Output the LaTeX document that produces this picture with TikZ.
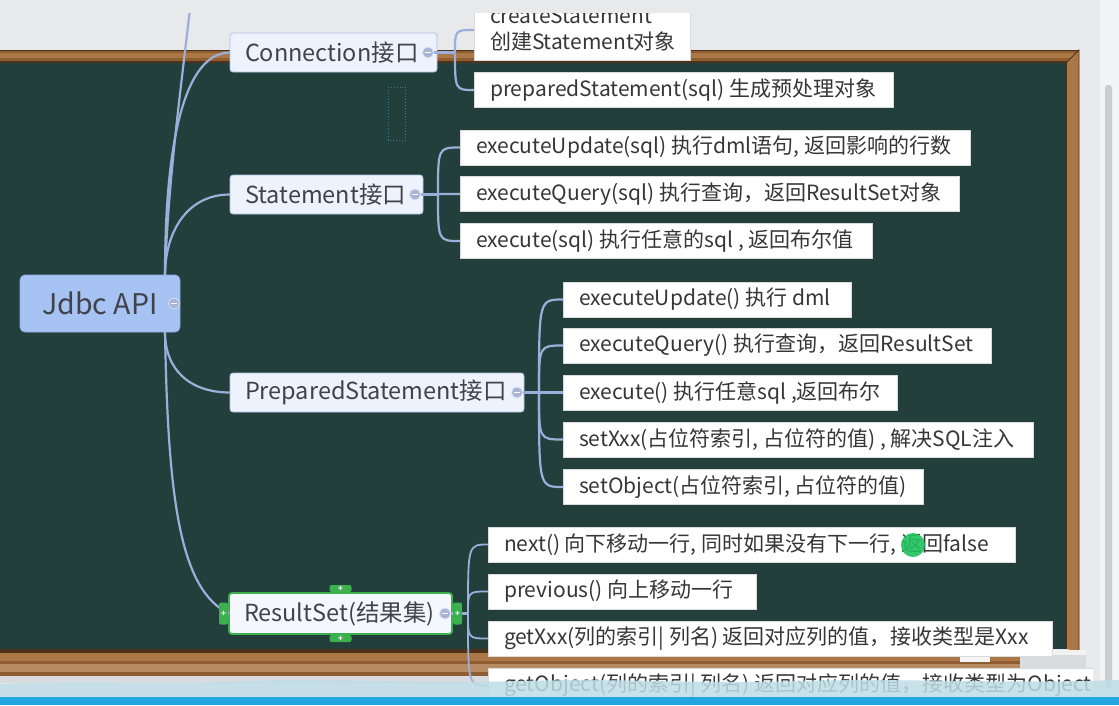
\documentclass[tikz,border=0pt]{standalone}
\usepackage{fontspec}
\setmainfont{Noto Sans CJK SC}
\usetikzlibrary{calc}
\definecolor{bg}{HTML}{E8E9EB}
\definecolor{panel}{HTML}{F2F3F4}
\definecolor{scroll}{HTML}{CBCCCE}
\definecolor{board}{HTML}{223F3B}
\definecolor{wood}{HTML}{8E5E32}
\definecolor{woodlt}{HTML}{AB7746}
\definecolor{wooddk}{HTML}{4F321A}
\definecolor{ledgegray}{HTML}{D9DCDE}
\definecolor{branch}{HTML}{9CAFDA}
\definecolor{topicfill}{HTML}{EEF2FC}
\definecolor{topicdraw}{HTML}{AFC0E8}
\definecolor{rootfill}{HTML}{A7C3F3}
\definecolor{rootdraw}{HTML}{8FAEE6}
\definecolor{txt}{HTML}{40434A}
\definecolor{leaftxt}{HTML}{363636}
\definecolor{leafdraw}{HTML}{DADADA}
\definecolor{knobfill}{HTML}{A8B4D6}
\definecolor{selgreen}{HTML}{3CB04E}
\definecolor{rsfill}{HTML}{F4F7FE}
\definecolor{cursorgreen}{HTML}{1FC25F}
\definecolor{wave}{HTML}{BFDDE7}
\definecolor{cyanbar}{HTML}{21A6E0}
\definecolor{dotcol}{HTML}{3A7F8F}
\newcommand{\lt}[2]{\hbox to #1pt{#2\hfil}}
\begin{document}
\begin{tikzpicture}[x=1pt,y=-1pt,
  every node/.style={inner sep=0pt, outer sep=0pt},
  rootbox/.style={draw=rootdraw, fill=rootfill, rounded corners=5pt, line width=0.8pt, minimum width=160pt, minimum height=57pt, font=\fontsize{28.5}{32}\selectfont, text=txt},
  topic/.style={draw=topicdraw, fill=topicfill, rounded corners=3pt, line width=0.8pt, minimum height=39pt, inner xsep=15pt, anchor=west, font=\fontsize{23.5}{27}\selectfont, text=txt},
  leaf/.style={draw=leafdraw, fill=white, line width=0.6pt, minimum height=35pt, inner xsep=16pt, anchor=west, font=\fontsize{21}{26}\selectfont, text=leaftxt},
  br/.style={draw=branch, line width=2.2pt},
  knob/.style={circle, draw=white!60!branch, fill=knobfill, minimum size=11pt, line width=0.8pt,
    path picture={\draw[white, line width=1.5pt] ([xshift=-2.6pt]path picture bounding box.center) -- ([xshift=2.6pt]path picture bounding box.center);}},
  handle/.style={fill=selgreen, rounded corners=2pt},
  plus/.style={text=white, font=\fontsize{8}{8}\selectfont\bfseries},
]
\useasboundingbox (0,0) rectangle (1119,705);
% ---------- background ----------
\fill[bg] (0,0) rectangle (1119,705);
\fill[panel] (1100,0) rectangle (1119,705);
\fill[scroll, rounded corners=3pt] (1105,85) rectangle (1112,688);
\fill[board] (0,62) rectangle (1067,649);
% top frame
\fill[wood] (0,50) -- (1079,50) -- (1067,62) -- (0,62) -- cycle;
\fill[woodlt] (0,53) rectangle (1074,58);
\draw[wooddk, line width=1pt] (0,50.5) -- (1079,50.5);
\draw[wooddk, line width=1.4pt] (0,62) -- (1067,62) -- (1067,649);
% right frame
\fill[woodlt] (1079,50) -- (1079,652) -- (1067,649) -- (1067,62) -- cycle;
\draw[wooddk, line width=0.8pt] (1067,62) -- (1079,50) -- (1079,652);
% ledge
\fill[wooddk] (0,649) rectangle (1020,653);
\fill[woodlt] (0,653) rectangle (1020,661);
\fill[wood] (0,661) rectangle (1020,664);
\fill[woodlt!85!white] (0,664) rectangle (1020,672);
\fill[wood] (0,672) rectangle (1020,676);
\fill[ledgegray] (1020,650) rectangle (1086,668);
\fill[white!95!black] (1020,650) rectangle (1086,655);
\fill[ledgegray] (0,676) rectangle (1093,683);
\fill[white!96!black] (960,656) rectangle (990,662);
% ---------- mind map ----------
\begin{scope}
\clip (0,13) rectangle (1093,705);
\draw[dotted, dotcol, line width=0.9pt] (388,87) rectangle (405,140);
% nodes
\node[rootbox] (root) at (100,303.5) {Jdbc API};
\node[topic] (conn) at (230,52.5) {\lt{177}{Connection接口}};
\node[topic] (stmt) at (230,194.5) {\lt{163}{Statement接口}};
\node[topic] (pst) at (230,392.5) {\lt{264}{PreparedStatement接口}};
\node[topic, draw=selgreen, line width=1.8pt, fill=rsfill, minimum height=41pt] (rs) at (229,613.5) {\lt{193}{ResultSet(结果集)}};
% connection children
\node[leaf, minimum height=60pt] (cs) at (474,30) {\vbox{\hbox to184pt{createStatement\hfil}\hbox to184pt{创建Statement对象\hfil}}};
\node[leaf] (ps) at (474,90) {\lt{387}{preparedStatement(sql) 生成预处理对象}};
% statement children
\node[leaf] (su) at (460,147.5) {\lt{478}{executeUpdate(sql) 执行dml语句, 返回影响的行数}};
\node[leaf] (sq) at (460,194) {\lt{467}{executeQuery(sql) 执行查询，返回ResultSet对象}};
\node[leaf] (se) at (460,241) {\lt{380}{execute(sql) 执行任意的sql , 返回布尔值}};
% prepared statement children
\node[leaf] (pu) at (563,299.5) {\lt{256}{executeUpdate() 执行 dml}};
\node[leaf] (pq) at (563,345.5) {\lt{396}{executeQuery() 执行查询，返回ResultSet}};
\node[leaf] (pe) at (563,392.5) {\lt{302}{execute() 执行任意sql ,返回布尔}};
\node[leaf] (px) at (563,439.5) {\lt{438}{setXxx(占位符索引, 占位符的值) , 解决SQL注入}};
\node[leaf] (po) at (563,487) {\lt{328}{setObject(占位符索引, 占位符的值)}};
% resultset children
\node[leaf] (rn) at (488,544.5) {\lt{495}{next() 向下移动一行, 同时如果没有下一行, 返回false}};
\node[leaf] (rp) at (488,591.5) {\lt{236}{previous() 向上移动一行}};
\node[leaf] (rg) at (488,638.5) {\lt{532}{getXxx(列的索引| 列名) 返回对应列的值，接收类型是Xxx}};
\node[leaf] (ro) at (488,685.5) {\lt{618}{getObject(列的索引| 列名) 返回对应列的值，接收类型为Object}};
% root branches
\coordinate (rt) at ([xshift=-15pt]root.north east);
\coordinate (rb) at ([xshift=-15pt]root.south east);
\coordinate (up) at (191,0);
\draw[br] (rt) .. controls (168,180) and (182,80) .. (up);
\draw[br] (rt) .. controls (165,140) and (185,52.5) .. (conn.west);
\draw[br] (rt) .. controls (165,235) and (185,194.5) .. (stmt.west);
\draw[br] (rb) .. controls (165,370) and (190,392.5) .. (pst.west);
\draw[br] (rb) .. controls (168,500) and (180,590) .. (rs.west);
% knobs
\node[knob] (rootk) at ([xshift=-6pt]root.east) {};
\node[knob] (connk) at ([xshift=-9pt]conn.east) {};
\node[knob] (stmtk) at ([xshift=-8pt]stmt.east) {};
\node[knob] (pstk) at ([xshift=-7pt]pst.east) {};
\node[knob] (rsk) at ([xshift=-7pt]rs.east) {};
% junctions
\coordinate (cj) at ([xshift=18pt]conn.east);
\coordinate (sj) at ([xshift=15pt]stmt.east);
\coordinate (pj) at ([xshift=15pt]pst.east);
\coordinate (rj) at ([xshift=16pt]rs.east);
\draw[br] (connk.east) -- (cj);
\draw[br] (stmtk.east) -- (sj);
\draw[br] (pstk.east) -- (pj);
\draw[br] (rsk.east) -- (rj);
\foreach \c in {cs,ps} \draw[br] (cj) .. controls (cj |- \c.west) .. (\c.west);
\foreach \c in {su,sq,se} \draw[br] (sj) .. controls (sj |- \c.west) .. (\c.west);
\foreach \c in {pu,pq,pe,px,po} \draw[br] (pj) .. controls (pj |- \c.west) .. (\c.west);
\foreach \c in {rn,rp,rg,ro} \draw[br, line width=1.8pt] (rj) .. controls (rj |- \c.west) .. (\c.west);
% selection handles of ResultSet
\fill[handle] ([xshift=-11pt,yshift=1pt]rs.north) rectangle ([xshift=11pt,yshift=8pt]rs.north);
\node[plus] at ([yshift=4.5pt]rs.north) {+};
\fill[handle] ([xshift=-11pt,yshift=-1pt]rs.south) rectangle ([xshift=11pt,yshift=-8pt]rs.south);
\node[plus] at ([yshift=-4.5pt]rs.south) {+};
\fill[handle] ([xshift=-10pt,yshift=-11pt]rs.west) rectangle ([xshift=-1pt,yshift=11pt]rs.west);
\node[plus] at ([xshift=-5.5pt]rs.west) {+};
\fill[handle] ([xshift=1pt,yshift=-11pt]rs.east) rectangle ([xshift=10pt,yshift=11pt]rs.east);
\node[plus] at ([xshift=5.5pt]rs.east) {+};
% cursor
\node[circle, fill=cursorgreen, fill opacity=0.9, minimum size=24pt] (cur) at (913,545) {};
\end{scope}
% ---------- bottom overlay ----------
\fill[wave, opacity=0.85] (0,684) .. controls (80,680) and (160,685) .. (250,681)
  .. controls (340,678) and (430,684) .. (520,681) .. controls (620,678) and (700,684) .. (800,681)
  .. controls (900,678) and (1000,684) .. (1119,680) -- (1119,697) -- (0,697) -- cycle;
\fill[cyanbar] (0,697) rectangle (1119,705);
\end{tikzpicture}
\end{document}
